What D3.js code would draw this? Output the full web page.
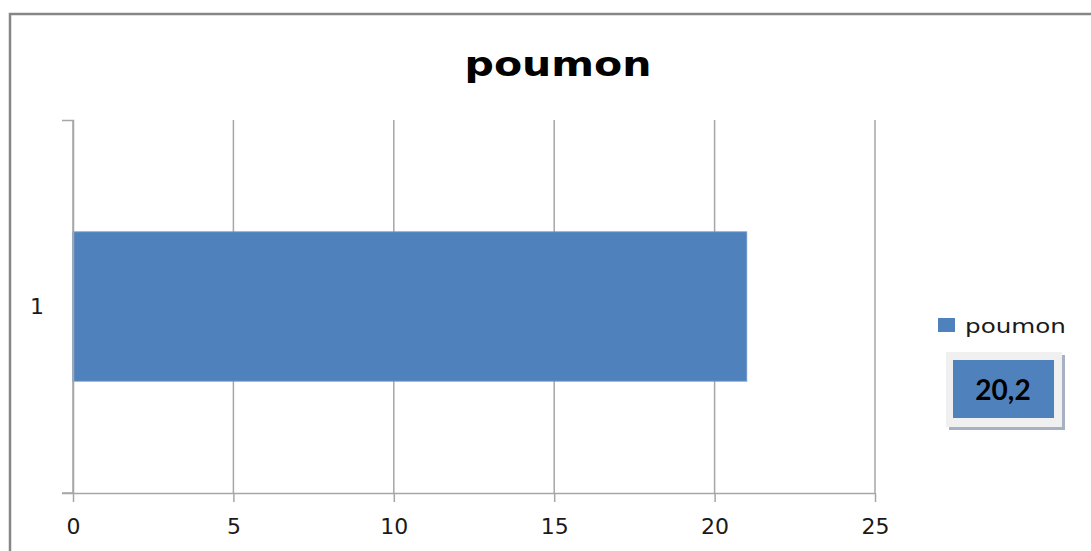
<!DOCTYPE html>
<html>
<head>
<meta charset="utf-8">
<script src="https://cdn.jsdelivr.net/npm/d3@7"></script>
<style>
  body { margin: 0; background: #fff; }
  svg { display: block; }
</style>
</head>
<body>
<div id="root"></div>
<script>
// Chart data
const categories = ['1'];
const seriesName = 'poumon';
const values = [21];
const xTicks = [0, 5, 10, 15, 20, 25];
const boxLabel = '20,2';
const title = 'poumon';

const W = 1091, H = 551;
const margin = { top: 120, right: 216, bottom: 58, left: 73 };
const width = W - margin.left - margin.right;   // 802
const height = H - margin.top - margin.bottom;  // 373

const svg = d3.select('#root')
  .append('svg')
  .attr('width', W)
  .attr('height', H);

// Outer chart frame
svg.append('rect')
  .attr('x', 10)
  .attr('y', 14)
  .attr('width', W + 20)
  .attr('height', H + 20)
  .attr('fill', '#fff')
  .attr('stroke', '#868686')
  .attr('stroke-width', 2.5);

// Title
svg.append('text')
  .attr('x', 558)
  .attr('y', 76)
  .attr('text-anchor', 'middle')
  .attr('textLength', 187)
  .attr('lengthAdjust', 'spacingAndGlyphs')
  .style('font-family', 'DejaVu Sans')
  .style('font-weight', 'bold')
  .style('font-size', '33px')
  .text(title);

const g = svg.append('g')
  .attr('transform', `translate(${margin.left},${margin.top})`);

const x = d3.scaleLinear().domain([0, 25]).range([0, width]);
const y = d3.scaleBand().domain(categories).range([0, height])
  .paddingInner(0).paddingOuter(0.75);

const gridColor = '#a6a6a6';

// Vertical gridlines
g.selectAll('.grid')
  .data(xTicks)
  .enter()
  .append('line')
  .attr('class', 'grid')
  .attr('x1', d => x(d))
  .attr('x2', d => x(d))
  .attr('y1', 0)
  .attr('y2', height)
  .attr('stroke', gridColor)
  .attr('stroke-width', 1.5);

// Bars
g.selectAll('.bar')
  .data(values)
  .enter()
  .append('rect')
  .attr('class', 'bar')
  .attr('x', x(0))
  .attr('y', (d, i) => y(categories[i]))
  .attr('width', d => x(d) - x(0))
  .attr('height', y.bandwidth())
  .attr('fill', '#4f81bd')
  .attr('stroke', '#6a95c9')
  .attr('stroke-width', 1);

// X axis
const xAxis = g.append('g')
  .attr('transform', `translate(0,${height})`)
  .call(d3.axisBottom(x).tickValues(xTicks).tickSize(9).tickPadding(16).tickSizeOuter(0));
xAxis.select('.domain').attr('stroke', gridColor).attr('stroke-width', 1.5)
  .attr('d', `M-11,0.5H${width}`);
xAxis.selectAll('.tick line').attr('stroke', gridColor).attr('stroke-width', 1.5);
xAxis.selectAll('.tick text')
  .style('font-family', 'DejaVu Sans')
  .style('font-size', '22px')
  .attr('fill', '#1a1a1a');

// Y axis (ticks on band edges)
const yAxis = g.append('g')
  .call(d3.axisLeft(y).tickSize(0).tickPadding(29));
yAxis.select('.domain').attr('stroke', gridColor).attr('stroke-width', 1.5)
  .attr('d', `M-11,0.5H0.5V${height}`);
yAxis.selectAll('.tick text')
  .style('font-family', 'DejaVu Sans')
  .style('font-size', '22px')
  .attr('fill', '#1a1a1a');
g.append('line')
  .attr('x1', -11).attr('x2', 0)
  .attr('y1', height).attr('y2', height)
  .attr('stroke', gridColor).attr('stroke-width', 1.5);

// Legend
const legend = svg.append('g').attr('transform', 'translate(938,318)');
legend.append('rect')
  .attr('width', 17)
  .attr('height', 14)
  .attr('fill', '#4f81bd');
legend.append('text')
  .attr('x', 27)
  .attr('y', 15)
  .attr('textLength', 101)
  .attr('lengthAdjust', 'spacingAndGlyphs')
  .style('font-family', 'DejaVu Sans')
  .style('font-size', '20px')
  .attr('fill', '#1a1a1a')
  .text(seriesName);

// Value box with shadow
const box = svg.append('g').attr('transform', 'translate(946,352)');
box.append('rect')
  .attr('x', 3).attr('y', 3)
  .attr('width', 116).attr('height', 75)
  .attr('fill', '#a7b1c2');
box.append('rect')
  .attr('width', 116).attr('height', 75)
  .attr('fill', '#f0f0f0');
box.append('rect')
  .attr('x', 7).attr('y', 8)
  .attr('width', 101).attr('height', 58)
  .attr('fill', '#4f81bd');
box.append('text')
  .attr('x', 57)
  .attr('y', 48)
  .attr('text-anchor', 'middle')
  .style('font-family', 'Lato')
  .style('font-weight', 'bold')
  .style('font-size', '28px')
  .attr('fill', '#000')
  .text(boxLabel);
</script>
</body>
</html>
